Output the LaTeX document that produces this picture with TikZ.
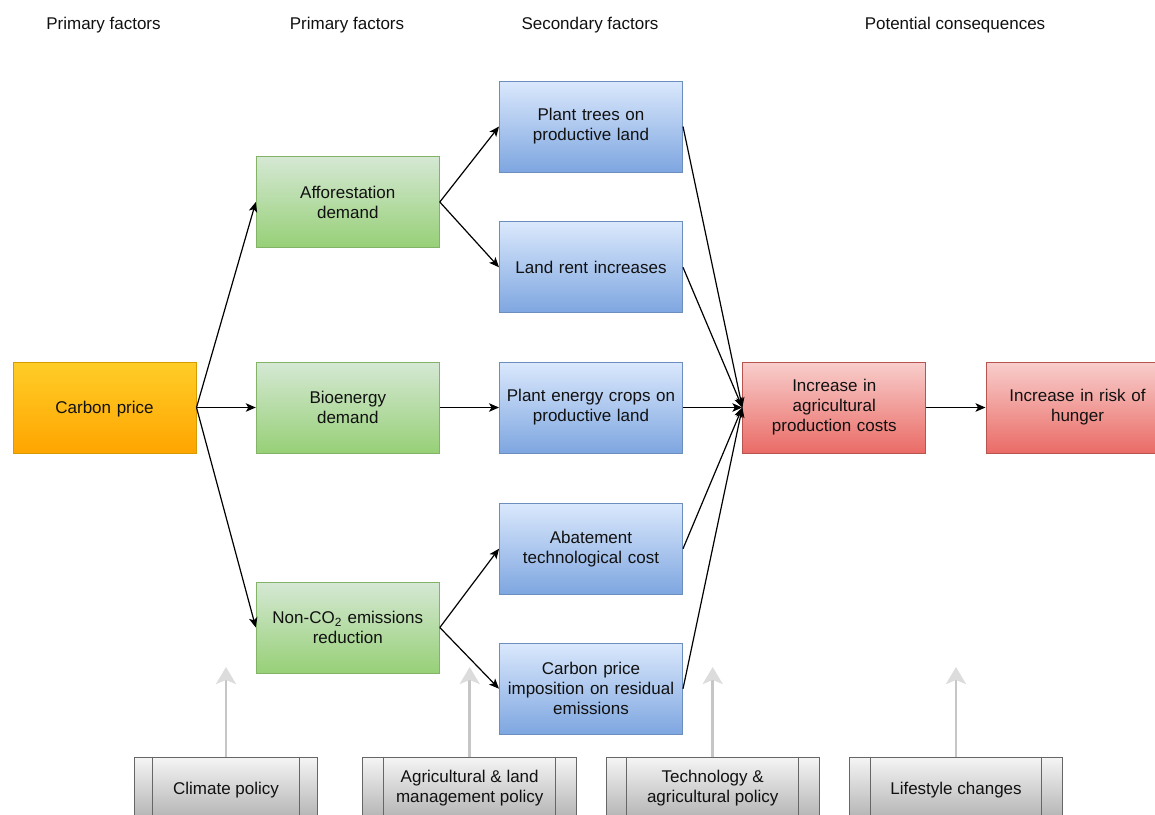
\documentclass[tikz,border=0pt]{standalone}
\usepackage{fontspec}
\setmainfont{Liberation Sans}
\usetikzlibrary{arrows.meta}
\definecolor{orTop}{HTML}{FFCD28}
\definecolor{orBot}{HTML}{FFA500}
\definecolor{orLine}{HTML}{D79B00}
\definecolor{grTop}{HTML}{D5E8D4}
\definecolor{grBot}{HTML}{97D077}
\definecolor{grLine}{HTML}{82B366}
\definecolor{blTop}{HTML}{DAE8FC}
\definecolor{blBot}{HTML}{7EA6E0}
\definecolor{blLine}{HTML}{6C8EBF}
\definecolor{rdTop}{HTML}{F8CECC}
\definecolor{rdBot}{HTML}{EA6B66}
\definecolor{rdLine}{HTML}{B85450}
\definecolor{gyTop}{HTML}{F5F5F5}
\definecolor{gyBot}{HTML}{B3B3B3}
\definecolor{gyLine}{HTML}{666666}
\definecolor{txt}{HTML}{111111}
\definecolor{shaft}{HTML}{C6C6C6}
\definecolor{headc}{HTML}{DCDCDC}
\tikzset{
  box/.style={rectangle, minimum width=183pt, minimum height=91pt, inner sep=2pt,
    align=center, text width=175pt, font=\fontsize{17pt}{20pt}\selectfont, text=txt, line width=1pt},
  orbox/.style={box, draw=orLine, top color=orTop, bottom color=orBot},
  grbox/.style={box, draw=grLine, top color=grTop, bottom color=grBot},
  blbox/.style={box, draw=blLine, top color=blTop, bottom color=blBot},
  rdbox/.style={box, draw=rdLine, top color=rdTop, bottom color=rdBot},
  procbox/.style={rectangle, minimum height=62pt, inner sep=2pt, align=center,
    font=\fontsize{17pt}{20pt}\selectfont, text=txt, draw=gyLine, line width=1pt,
    top color=gyTop, bottom color=gyBot},
  header/.style={font=\fontsize{17pt}{20pt}\selectfont, text=txt, inner sep=0pt},
  conn/.style={draw=black, line width=1.2pt, -{Stealth[length=10pt,width=8.5pt,inset=2.5pt]}},
  grayconn/.style={draw=shaft, line width=2.6pt, -{Stealth[length=17pt,width=20pt,inset=4pt,fill=headc,color=headc]}},
}
\begin{document}
\begin{tikzpicture}[x=1pt,y=-1pt]
\useasboundingbox (0,0) rectangle (1155,814);
\clip (0,0) rectangle (1155,814);

% headers
\node[header] (h1) at (103.5,25.5) {Primary factors};
\node[header] (h2) at (347,25.5) {Primary factors};
\node[header] (h3) at (590,25.5) {Secondary factors};
\node[header] (h4) at (955,25.5) {Potential consequences};

% boxes
\node[orbox, text depth=0pt] (cp) at (104.5,407.5) {Carbon price};
\node[grbox] (aff) at (347.8,202) {Afforestation\\demand};
\node[grbox] (bio) at (347.8,407.5) {Bioenergy\\demand};
\node[grbox] (non) at (347.8,627.5) {Non-CO\textsubscript{2} emissions\\reduction};

\node[blbox] (trees) at (591,126.5) {Plant trees on\\productive land};
\node[blbox] (rent) at (591,267.3) {Land rent increases};
\node[blbox] (crops) at (591,407.5) {Plant energy crops on\\productive land};
\node[blbox] (abate) at (591,548.7) {Abatement\\technological cost};
\node[blbox] (impo) at (591,688.7) {Carbon price\\imposition on residual\\emissions};

\node[rdbox] (cost) at (834.3,407.5) {Increase in\\agricultural\\production costs};
\node[rdbox] (hunger) at (1077.5,407.5) {Increase in risk of\\hunger};

% bottom process boxes
\node[procbox, minimum width=182.6pt, text depth=0pt] (clim) at (226,788) {Climate policy};
\node[procbox, minimum width=214pt] (agri) at (469.7,788) {Agricultural \& land\\management policy};
\node[procbox, minimum width=213.3pt] (tech) at (712.7,788) {Technology \&\\agricultural policy};
\node[procbox, minimum width=213.4pt, text depth=0pt] (life) at (956,788) {Lifestyle changes};
\foreach \n/\d in {clim/18.2, agri/21.4, tech/21.3, life/21.3}{
  \draw[gyLine, line width=1pt] ([xshift=\d pt]\n.north west) -- ([xshift=\d pt]\n.south west);
  \draw[gyLine, line width=1pt] ([xshift=-\d pt]\n.north east) -- ([xshift=-\d pt]\n.south east);
}

% gray influence arrows
\coordinate (climtip) at (226,667);
\coordinate (agritip) at (469.7,667);
\coordinate (techtip) at (712.7,667);
\coordinate (lifetip) at (956,667);
\draw[grayconn] (clim.north) -- (climtip);
\draw[grayconn] (agri.north) -- (agritip);
\draw[grayconn] (tech.north) -- (techtip);
\draw[grayconn] (life.north) -- (lifetip);

% connectors
\draw[conn] (cp.east) -- (aff.west);
\draw[conn] (cp.east) -- (bio.west);
\draw[conn] (cp.east) -- (non.west);
\draw[conn] (aff.east) -- (trees.west);
\draw[conn] (aff.east) -- (rent.west);
\draw[conn] (bio.east) -- (crops.west);
\draw[conn] (non.east) -- (abate.west);
\draw[conn] (non.east) -- (impo.west);
\draw[conn] (trees.east) -- (cost.west);
\draw[conn] (rent.east) -- (cost.west);
\draw[conn] (crops.east) -- (cost.west);
\draw[conn] (abate.east) -- (cost.west);
\draw[conn] (impo.east) -- (cost.west);
\draw[conn] (cost.east) -- (hunger.west);
\end{tikzpicture}
\end{document}
